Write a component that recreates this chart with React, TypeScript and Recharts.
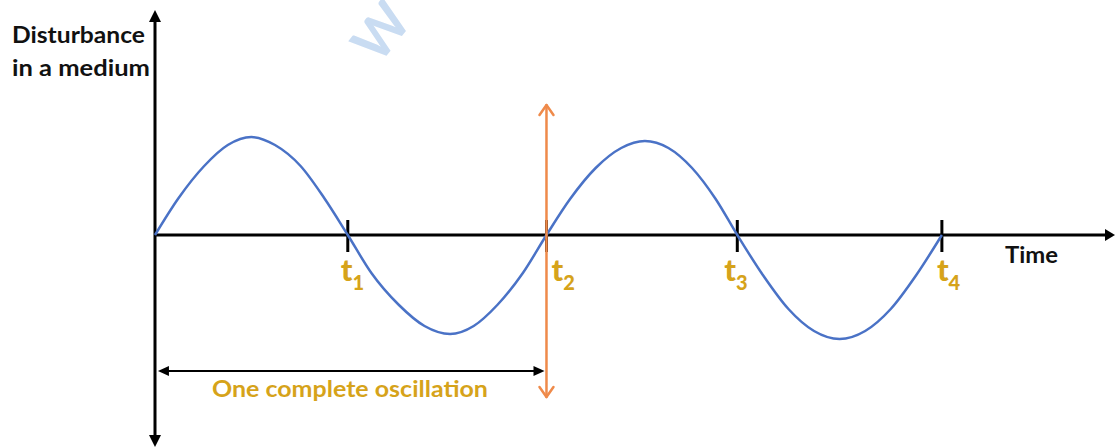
import React from "react"
import { ComposedChart, Line, XAxis, YAxis, ReferenceLine } from "recharts"

// time samples across two full oscillations (t4 = 4)
const times = [
  0, 0.12, 0.25, 0.37, 0.49, 0.61, 0.74, 0.86, 0.98,
  1.1, 1.24, 1.37, 1.5, 1.62, 1.74, 1.87, 1.99,
  2.11, 2.24, 2.37, 2.49, 2.61, 2.73, 2.85, 2.96,
  3.09, 3.22, 3.35, 3.48, 3.61, 3.74, 3.87, 4.0,
]
const disturbance = [
  0, 0.37, 0.69, 0.9, 0.98, 0.9, 0.69, 0.37, 0,
  -0.38, -0.7, -0.91, -0.99, -0.91, -0.7, -0.38, 0,
  0.36, 0.67, 0.87, 0.94, 0.87, 0.67, 0.36, 0,
  -0.4, -0.74, -0.96, -1.04, -0.96, -0.74, -0.4, 0,
]

// marked instants on the time axis
const tickTimes = [0.98, 1.99, 2.96, 4.0]
const tickSubs = ["1", "2", "3", "4"]

// one complete oscillation spans 0 .. t2
const periodStart = 0.015
const periodEnd = 1.98
const periodLevel = -1.36
const markerTop = 1.3
const markerBottom = -1.62

const xMax = 4.88
const yMin = -2.12
const yMax = 2.25

const data = times.map((t, i) => ({ time: t, disturbance: disturbance[i] }))

const GOLD = "#d6a31a"
const ORANGE = "#ef8a4a"
const BLUE = "#4a72c6"
const FONT = "Lato, 'Open Sans', sans-serif"
const labelOffsets = [-7, 5, -13, -5]

// filled triangular head, (dx, dy) = unit direction pointing at the tip
function head(x: number, y: number, dx: number, dy: number, len: number, half: number, color: string) {
  const bx = x - dx * len
  const by = y - dy * len
  const pts = `${x},${y} ${bx - dy * half},${by + dx * half} ${bx + dy * half},${by - dx * half}`
  return <polygon points={pts} fill={color} />
}

// open chevron head
function chevron(x: number, y: number, dx: number, dy: number, len: number, half: number, color: string) {
  const bx = x - dx * len
  const by = y - dy * len
  return (
    <g stroke={color} strokeWidth={2.5} strokeLinecap="round" fill="none">
      <line x1={x} y1={y} x2={bx - dy * half} y2={by + dx * half} />
      <line x1={x} y1={y} x2={bx + dy * half} y2={by - dx * half} />
    </g>
  )
}

const VerticalAxis = (p: any) => {
  const x = p.x1
  const top = Math.min(p.y1, p.y2)
  const bottom = Math.max(p.y1, p.y2)
  return (
    <g>
      <line x1={x} y1={top + 6} x2={x} y2={bottom - 6} stroke="#000" strokeWidth={3} />
      {head(x, top, 0, -1, 12, 6, "#000")}
      {head(x, bottom, 0, 1, 12, 6, "#000")}
      <text x={x - 143} y={43} fontFamily={FONT} fontWeight={700} fontSize={22} fill="#111"
        textLength={133} lengthAdjust="spacingAndGlyphs">
        Disturbance
      </text>
      <text x={x - 143} y={76} fontFamily={FONT} fontWeight={700} fontSize={22} fill="#111"
        textLength={138} lengthAdjust="spacingAndGlyphs">
        in a medium
      </text>
    </g>
  )
}

const TimeAxis = (p: any) => {
  const left = Math.min(p.x1, p.x2)
  const right = Math.max(p.x1, p.x2)
  const y = p.y1
  return (
    <g>
      <line x1={left} y1={y} x2={right - 6} y2={y} stroke="#000" strokeWidth={3} />
      {head(right, y, 1, 0, 10, 6, "#000")}
      <text x={right - 110} y={y + 28} fontFamily={FONT} fontWeight={700} fontSize={22} fill="#111"
        textLength={53} lengthAdjust="spacingAndGlyphs">
        Time
      </text>
    </g>
  )
}

const TickMark = (i: number) => (p: any) => {
  const x = p.x1
  const top = Math.min(p.y1, p.y2)
  const bottom = Math.max(p.y1, p.y2)
  return (
    <g>
      <line x1={x} y1={top} x2={x} y2={bottom} stroke="#000" strokeWidth={3} />
      <text x={x + labelOffsets[i]} y={bottom + 29} fontFamily={FONT} fontWeight={900} fontSize={31} fill={GOLD}>
        t
        <tspan fontSize={20} dy={9} fontWeight={900}>
          {tickSubs[i]}
        </tspan>
      </text>
    </g>
  )
}

const PeriodMarker = (p: any) => {
  const x = p.x1
  const top = Math.min(p.y1, p.y2)
  const bottom = Math.max(p.y1, p.y2)
  return (
    <g>
      <line x1={x} y1={top + 1} x2={x} y2={bottom - 1} stroke={ORANGE} strokeWidth={2.5} />
      {chevron(x, top, 0, -1, 10, 7, ORANGE)}
      {chevron(x, bottom, 0, 1, 10, 7, ORANGE)}
    </g>
  )
}

const PeriodSpan = (p: any) => {
  const left = Math.min(p.x1, p.x2)
  const right = Math.max(p.x1, p.x2)
  const y = p.y1
  return (
    <g>
      <line x1={left + 6} y1={y} x2={right - 6} y2={y} stroke="#000" strokeWidth={2} />
      {head(left, y, -1, 0, 11, 5, "#000")}
      {head(right, y, 1, 0, 11, 5, "#000")}
      <text
        x={left + 54}
        y={y + 26}
        fontFamily={FONT}
        fontWeight={700}
        fontSize={22}
        fill={GOLD}
        textLength={276}
        lengthAdjust="spacingAndGlyphs"
      >
        One complete oscillation
      </text>
    </g>
  )
}

export default function App() {
  return (
    <div style={{ position: "absolute", left: 0, top: 0, width: 1115, height: 448, background: "#fff", overflow: "hidden" }}>
      <span
        style={{
          position: "absolute",
          left: 352,
          top: 4,
          fontFamily: FONT,
          fontWeight: 700,
          fontSize: 54,
          lineHeight: "54px",
          color: "#c9dcf2",
          transform: "rotate(-52deg)",
          transformOrigin: "center",
        }}
      >
        W
      </span>
      <ComposedChart width={1115} height={448} data={data} margin={{ top: 10, right: 0, bottom: 1, left: 155 }}>
        <XAxis dataKey="time" type="number" domain={[0, xMax]} hide />
        <YAxis type="number" domain={[yMin, yMax]} hide />
        <ReferenceLine segment={[{ x: 0, y: yMin }, { x: 0, y: yMax }]} shape={VerticalAxis} />
        <ReferenceLine segment={[{ x: 0, y: 0 }, { x: xMax, y: 0 }]} shape={TimeAxis} />
        {tickTimes.map((t, i) => (
          <ReferenceLine key={t} segment={[{ x: t, y: 0.15 }, { x: t, y: -0.17 }]} shape={TickMark(i)} />
        ))}
        <ReferenceLine segment={[{ x: periodStart, y: periodLevel }, { x: periodEnd, y: periodLevel }]} shape={PeriodSpan} />
        <Line
          type="monotone"
          dataKey="disturbance"
          stroke={BLUE}
          strokeWidth={2.5}
          dot={false}
          isAnimationActive={false}
        />
        <ReferenceLine segment={[{ x: 1.99, y: markerTop }, { x: 1.99, y: markerBottom }]} shape={PeriodMarker} />
      </ComposedChart>
    </div>
  )
}
